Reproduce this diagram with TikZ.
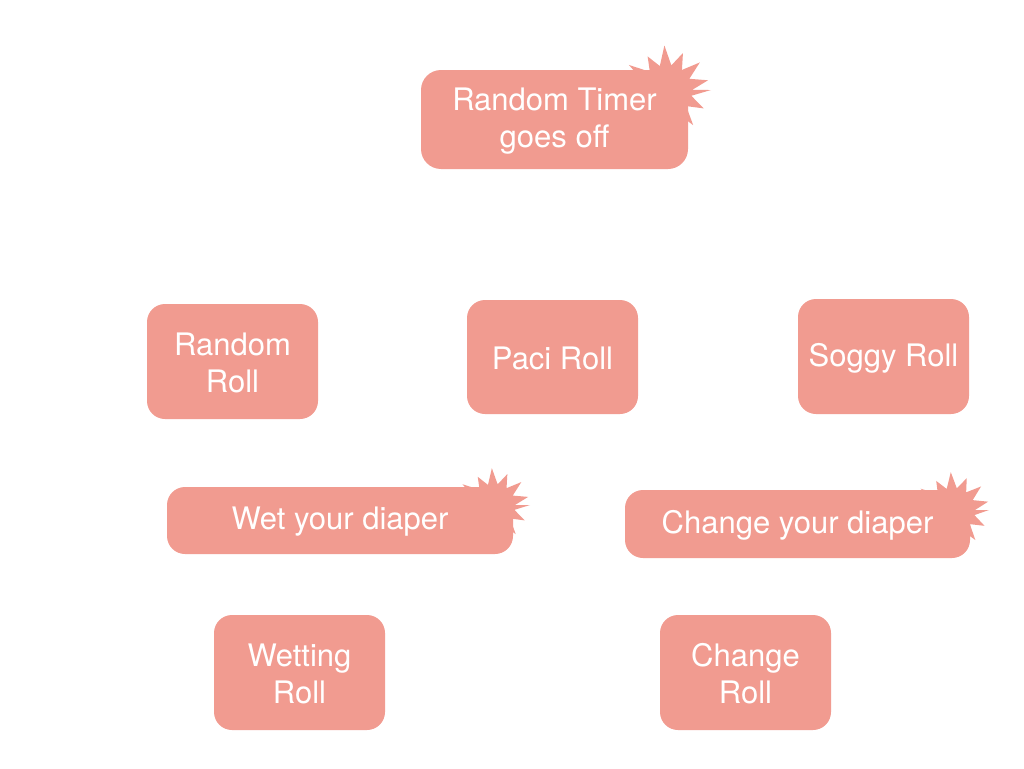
\documentclass[tikz,border=0pt]{standalone}
\usepackage{fontspec}
\setmainfont{TeX Gyre Heros}
\definecolor{boxfill}{RGB}{241,155,144}
\begin{document}
\begin{tikzpicture}[x=1pt,y=-1pt,
  box/.style={fill=boxfill, rounded corners=18pt, inner sep=0pt},
  txt/.style={align=center, text=white, inner sep=0pt, yshift=-1.5pt,
    font=\fontsize{31}{37}\selectfont},
  burst/.style={fill=boxfill}]
\useasboundingbox (0,0) rectangle (1024,768);
% starbursts
\fill[burst,shift={(667,90)}] (0:44) \foreach \i in {1,...,27}{ -- (\i*13.333:{mod(\i,2)==0 ? 42+4*sin(\i*97) : 25}) } -- cycle;
\fill[burst,shift={(494,505)}] (0:36) \foreach \i in {1,...,27}{ -- (\i*13.333:{mod(\i,2)==0 ? 35+3*sin(\i*97) : 21}) } -- cycle;
\fill[burst,shift={(953,510)}] (0:36) \foreach \i in {1,...,27}{ -- (\i*13.333:{mod(\i,2)==0 ? 36+3*sin(\i*97) : 22}) } -- cycle;
% boxes
\node[box, rounded corners=20pt, minimum width=267pt, minimum height=99pt,
  label={[txt]center:Random Timer\\goes off}] (timer) at (554.5,119.5) {};
\node[box, minimum width=171pt, minimum height=115pt,
  label={[txt]center:Random\\Roll}] (random) at (232.5,361.5) {};
\node[box, minimum width=171pt, minimum height=114pt,
  label={[txt]center:Paci Roll}] (paci) at (552.5,357) {};
\node[box, minimum width=171pt, minimum height=115pt,
  label={[txt]center:Soggy Roll}] (soggy) at (883.5,356.5) {};
\node[box, minimum width=346pt, minimum height=67pt,
  label={[txt]center:Wet your diaper}] (wet) at (340,520.5) {};
\node[box, minimum width=345pt, minimum height=68pt,
  label={[txt]center:Change your diaper}] (change) at (797.5,524) {};
\node[box, minimum width=171pt, minimum height=115pt,
  label={[txt]center:Wetting\\Roll}] (wetting) at (299.5,672.5) {};
\node[box, minimum width=171pt, minimum height=115pt,
  label={[txt]center:Change\\Roll}] (changeroll) at (745.5,672.5) {};
\end{tikzpicture}
\end{document}
